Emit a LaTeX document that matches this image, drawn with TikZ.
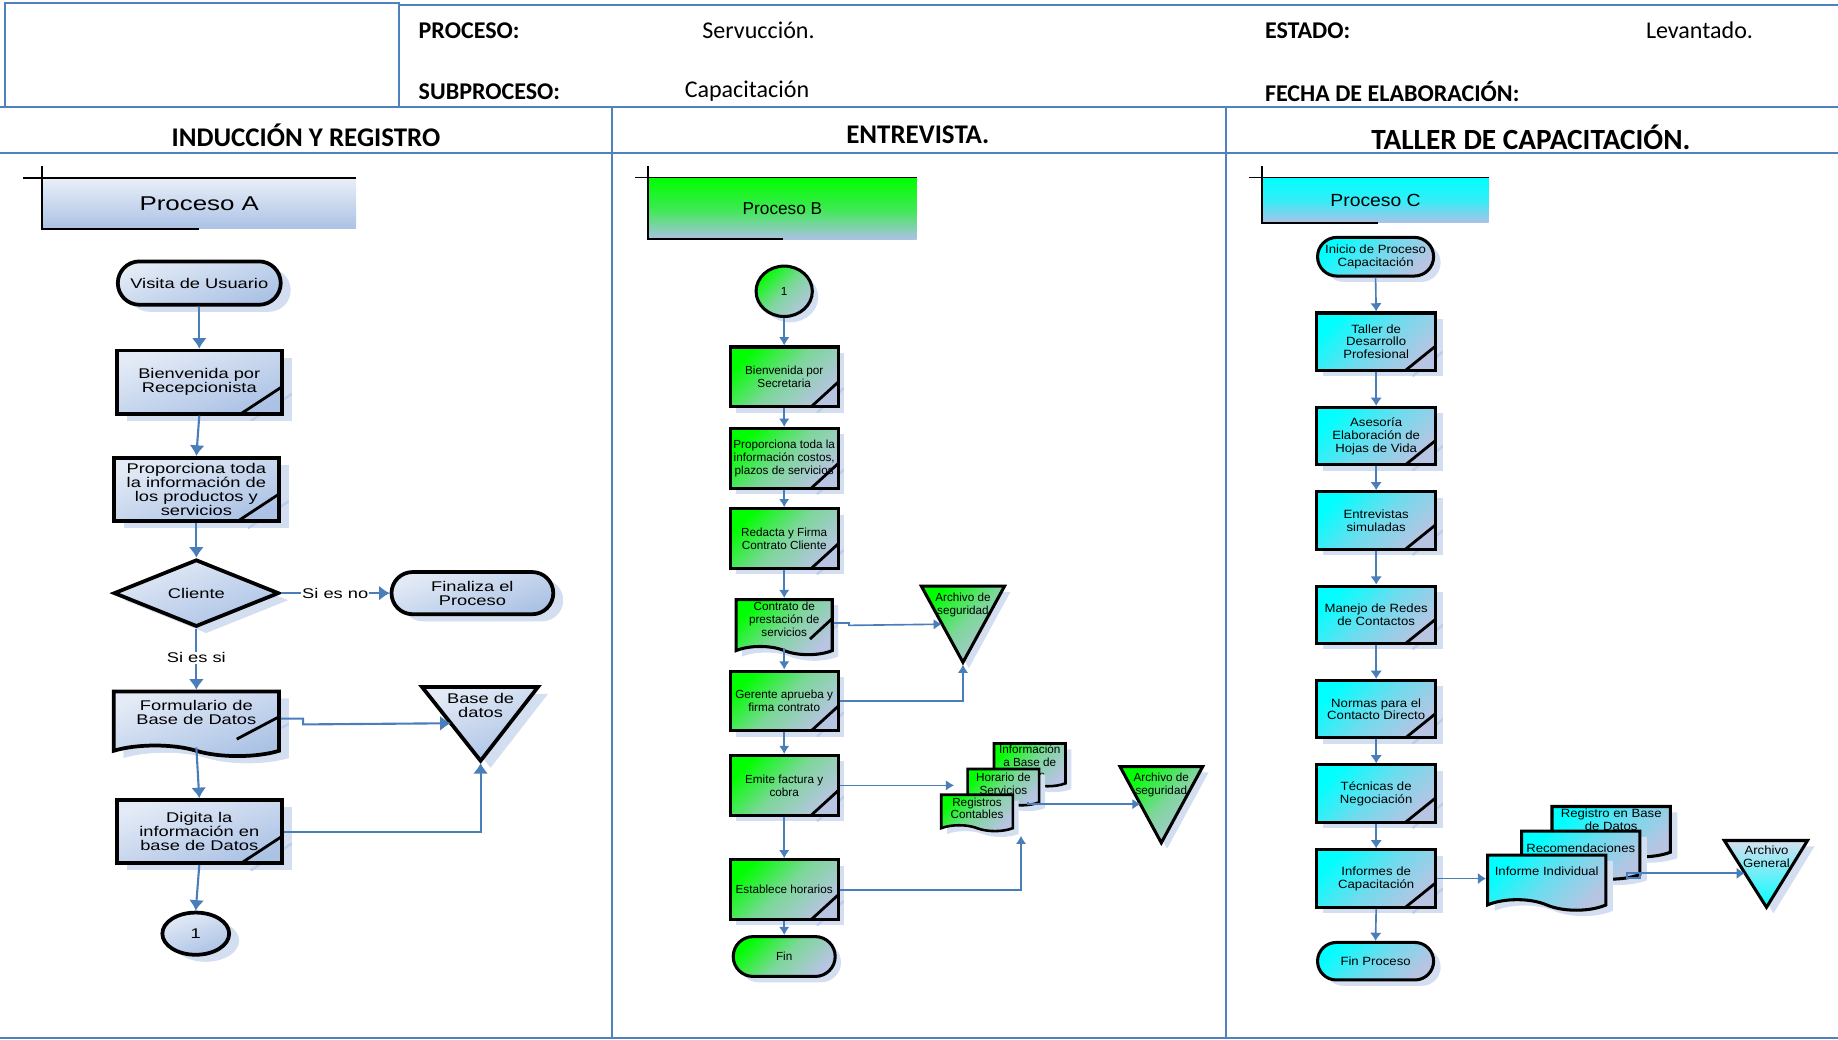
\documentclass[tikz,border=0pt]{standalone}
\usepackage{fontspec}
\setmainfont{Liberation Sans}
\newfontfamily\calibri{Carlito}
\newfontfamily\anchaA[FakeStretch=1.3]{Liberation Sans}
\newfontfamily\anchaC[FakeStretch=1.1]{Liberation Sans}
\usetikzlibrary{arrows.meta,shapes.geometric,shapes.misc,shapes.symbols,shadows}

\definecolor{lineablue}{HTML}{4F81BD}
\definecolor{azulflecha}{HTML}{4A7EBB}
\definecolor{colsombra}{HTML}{D3DEF0}
\definecolor{pliegue}{HTML}{BCCDEA}
\definecolor{azulclaro}{HTML}{E4EBF6}
\definecolor{azulmedio}{HTML}{ABC2E5}
\definecolor{grisazul}{HTML}{B7C4E2}
\definecolor{verde}{HTML}{00FF00}
\definecolor{cian}{HTML}{00FFFF}

\newcommand{\fuenteA}{\anchaA\fontsize{12}{12}\selectfont}
\newcommand{\fuenteB}{\fontsize{10}{11}\selectfont}
\newcommand{\fuenteC}{\anchaC\fontsize{10.2}{11}\selectfont}

\tikzset{
  marco/.style={draw=lineablue, line width=1.8pt},
  con sombra/.style 2 args={drop shadow={shadow xshift=#1, shadow yshift=-#2, opacity=1, fill=colsombra}},
  doblez/.style n args={5}{
    preaction={fill=colsombra, transform canvas={shift={(#4,-#5)}},
      path picture={\draw[line width=2pt, draw=pliegue] ([xshift=-#1,yshift=#3]path picture bounding box.south east) -- ([yshift=#2]path picture bounding box.south east);}},
    path picture={\draw[line width=2.4pt] ([xshift=-#1,yshift=#3]path picture bounding box.south east) -- ([yshift=#2]path picture bounding box.south east);}},
  tonoA/.style={top color=azulclaro, bottom color=azulmedio, shading angle=20},
  tonoB/.style={top color=verde, bottom color=grisazul, middle color=verde!32!grisazul, shading angle=45},
  tonoC/.style={top color=cian, bottom color=grisazul, middle color=cian!40!grisazul, shading angle=45},
  baseA/.style={draw, line width=3.2pt, tonoA, con sombra={8.5pt}{6pt}, inner sep=1pt, align=center, font=\fuenteA},
  baseB/.style={draw, line width=2.6pt, tonoB, con sombra={5pt}{5pt}, inner sep=1pt, align=center, font=\fuenteB},
  baseC/.style={draw, line width=2.6pt, tonoC, con sombra={6pt}{5pt}, inner sep=1pt, align=center, font=\fuenteC},
  cajaA/.style={rectangle, baseA, minimum width=141pt, minimum height=54pt, doblez={35pt}{23pt}{0pt}{8.5pt}{6pt}},
  cajaB/.style={rectangle, baseB, minimum width=92pt, minimum height=51pt, doblez={23pt}{21pt}{0pt}{5pt}{5pt}},
  cajaC/.style={rectangle, baseC, minimum width=102pt, minimum height=49pt, doblez={26pt}{21pt}{0pt}{6pt}{5pt}},
  terminal/.style={rounded rectangle, inner sep=1pt},
  hoja/.style={tape, tape bend top=none, tape bend bottom=out and in},
  flechaA/.style={draw=azulflecha, line width=1.8pt, -{Latex[length=9pt,width=13pt]}},
  flechaB/.style={draw=azulflecha, line width=1.4pt, -{Latex[length=7pt,width=9pt]}},
  flechaC/.style={draw=azulflecha, line width=1.4pt, -{Latex[length=7pt,width=10pt]}},
  banda/.style={rectangle, inner sep=0pt},
  rotulo/.style={anchor=west, inner sep=0pt, font=\calibri\fontsize{20.5}{24}\selectfont},
  negrita/.style={font=\calibri\bfseries\fontsize{20.5}{24}\selectfont},
  columna/.style={inner sep=0pt, font=\calibri\bfseries\fontsize{23}{26}\selectfont}
}

\begin{document}
\begin{tikzpicture}[x=1pt,y=-1pt]
\useasboundingbox (0,0) rectangle (1568,887);

\draw[marco] (4,2.5) rectangle (340.5,91.6);
\draw[marco] (340.5,4) -- (1568,4);
\draw[marco] (0,91.6) -- (1568,91.6);
\draw[marco] (0,130.5) -- (1568,130.5);
\draw[marco] (522,91.6) -- (522,885.5);
\draw[marco] (1046,91.6) -- (1046,885.5);
\draw[marco] (0,885.5) -- (1568,885.5);

\begin{scope}
\clip (0,0) rectangle (1568,90.5);
\node[rotulo, negrita] (proceso) at (357,26) {PROCESO:};
\node[rotulo] (servuccion) at (599,26) {Servucción.};
\node[rotulo, negrita] (estado) at (1079,26) {ESTADO:};
\node[rotulo] (levantado) at (1404,26) {Levantado.};
\node[rotulo, negrita] (subproceso) at (357,78) {SUBPROCESO:};
\node[rotulo] (capacitacion) at (584,78) {Capacitación};
\node[rotulo, negrita] (fecha) at (1079,78) {FECHA DE ELABORACIÓN:};
\end{scope}

\node[columna] (colA) at (261,115) {INDUCCIÓN Y REGISTRO};
\node[columna] (colB) at (783,115) {ENTREVISTA.};
\node[columna, font=\calibri\bfseries\fontsize{25}{27}\selectfont] (colC) at (1306,117) {TALLER DE CAPACITACIÓN.};

% Proceso A
\node[banda, top color=azulclaro!80!white, bottom color=azulmedio, minimum width=267.5pt, minimum height=43.5pt, font=\anchaA\fontsize{17}{17}\selectfont] (banA) at (170,173.5) {Proceso A};
\draw[line width=1.5pt] ([xshift=-16.5pt]banA.north west) -- (banA.north east);
\draw[line width=1.5pt] ([yshift=10pt]banA.north west) -- (banA.south west) -- ++(134,0);

\node[terminal, baseA, minimum width=141pt, minimum height=37pt] (visita) at (170,241.5) {Visita de Usuario};
\node[cajaA] (bienA) at (170,326) {Bienvenida por\\Recepcionista};
\node[cajaA] (propA) at (167.5,417.5) {Proporciona toda\\la información de\\los productos y\\servicios};
\node[diamond, baseA, inner sep=0pt, minimum width=141pt, minimum height=52pt] (cliente) at (167.5,506) {Cliente};
\node[terminal, baseA, minimum width=140pt, minimum height=36pt] (finaliza) at (403,506) {Finaliza el\\Proceso};
\node[hoja, baseA, tape bend height=9pt, minimum width=141pt, minimum height=55pt, text depth=11pt, doblez={36pt}{35pt}{16pt}{8.5pt}{6pt}] (formA) at (167.5,613) {Formulario de\\Base de Datos};
\node[cajaA] (digA) at (170,709.5) {Digita la\\información en\\base de Datos};
\node[ellipse, baseA, inner sep=0pt, minimum width=57pt, minimum height=36pt] (unoA) at (167,796.5) {1};

\path[draw, line width=3.2pt, tonoA, con sombra={8.5pt}{6pt}] (360,586) -- (459,586) -- (410,649) -- cycle;
\node[align=center, font=\fuenteA] (bdatos) at (410,601.5) {Base de\\datos};
\coordinate (bdIzq) at (384.5,617);
\coordinate (bdPunta) at (410,651);

\draw[flechaA] (visita.south) -- (bienA.north);
\draw[flechaA] (bienA.south) -- (propA.north);
\draw[flechaA] (propA.south) -- (cliente.north);
\draw[flechaA] (cliente.east) -- node[fill=white, inner sep=1pt, font=\fuenteA] {Si es no} (finaliza.west);
\draw[flechaA] (cliente.south) -- node[fill=white, inner sep=1pt, font=\fuenteA, pos=0.48] {Si es si} (formA.north);
\draw[flechaA] (formA.east) -- ++(19,0) -- ++(0,5) -- (bdIzq);
\draw[flechaA] (formA.south) -- (digA.north);
\draw[flechaA] (digA.east) -| (bdPunta);
\draw[flechaA] (digA.south) -- (unoA.north);

% Proceso B
\node[banda, top color=verde, bottom color=azulmedio, middle color=verde!65!azulmedio, minimum width=229pt, minimum height=52.4pt, font=\fontsize{14.7}{15}\selectfont] (banB) at (667.5,177.8) {Proceso B};
\draw[line width=1.5pt] ([xshift=-11pt]banB.north west) -- (banB.north east);
\draw[line width=1.5pt] ([yshift=9.6pt]banB.north west) -- (banB.south west) -- ++(115,0);

\node[ellipse, baseB, inner sep=0pt, minimum width=48pt, minimum height=43pt] (unoB) at (669,248.5) {1};
\node[cajaB] (bienB) at (669,321.5) {Bienvenida por\\Secretaria};
\node[cajaB] (propB) at (669,391) {Proporciona toda la\\información costos,\\plazos de servicios};
\node[cajaB] (redB) at (669,459.5) {Redacta y Firma\\Contrato Cliente};
\node[hoja, baseB, tape bend height=7pt, minimum width=82pt, minimum height=47pt, text depth=7pt, doblez={19pt}{32pt}{14.5pt}{5pt}{5pt}] (contB) at (669,531.5) {Contrato de\\prestación de\\servicios};
\node[cajaB] (gerB) at (669,598) {Gerente aprueba y\\firma contrato};
\node[cajaB] (emiB) at (669,670) {Emite factura y\\cobra};
\node[cajaB] (estB) at (669,759) {Establece horarios};
\node[terminal, baseB, minimum width=89pt, minimum height=34pt] (finB) at (669,816) {Fin};

\path[draw, line width=2.6pt, tonoB, con sombra={5pt}{5pt}] (786,500) -- (857,500) -- (821.5,565) -- cycle;
\node[align=center, font=\fuenteB] (archB) at (821.5,516) {Archivo de\\seguridad};
\coordinate (archBIzq) at (803.5,532.5);
\coordinate (archBPunta) at (821.5,567);

\node[hoja, baseB, line width=2.2pt, tape bend height=5pt, minimum width=61pt, minimum height=32pt] (infoB) at (878.5,650) {Información\\a Base de\\Datos};
\node[hoja, baseB, line width=2.2pt, tape bend height=5pt, minimum width=61pt, minimum height=31pt] (horB) at (856,669) {Horario de\\Servicios};
\node[hoja, baseB, line width=2.2pt, tape bend height=5pt, minimum width=61pt, minimum height=31pt, text depth=3pt] (regB) at (833.5,691) {Registros\\Contables};
\coordinate (pilaB) at (814,670);
\coordinate (salidaB) at (877,684);
\coordinate (bajoPilaB) at (871,713);

\path[draw, line width=2.6pt, tonoB, con sombra={5pt}{5pt}] (955.5,654) -- (1026,654) -- (990.7,719) -- cycle;
\node[align=center, font=\fuenteB] (archB2) at (990.7,669.5) {Archivo de\\seguridad};
\coordinate (archB2Izq) at (973,686);

\draw[flechaB] (unoB.south) -- (bienB.north);
\draw[flechaB] (bienB.south) -- (propB.north);
\draw[flechaB] (propB.south) -- (redB.north);
\draw[flechaB] (redB.south) -- (contB.north);
\draw[flechaB] (contB.east) -- ++(13,0) -- ++(0,2) -- (archBIzq);
\draw[flechaB] (contB.south) -- (gerB.north);
\draw[flechaB] (gerB.east) -| (archBPunta);
\draw[flechaB] (gerB.south) -- (emiB.north);
\draw[flechaB] (emiB.east) -- (pilaB);
\draw[flechaB] (salidaB) -- ++(0,2) -- (archB2Izq);
\draw[flechaB] (emiB.south) -- (estB.north);
\draw[flechaB] (estB.east) -| (bajoPilaB);
\draw[flechaB] (estB.south) -- (finB.north);

% Proceso C
\node[banda, top color=cian, bottom color=azulmedio, middle color=cian!70!azulmedio, minimum width=193pt, minimum height=38.4pt, font=\anchaC\fontsize{15}{15}\selectfont] (banC) at (1173.5,170.8) {Proceso C};
\draw[line width=1.5pt] ([xshift=-11pt]banC.north west) -- (banC.north east);
\draw[line width=1.5pt] ([yshift=9.6pt]banC.north west) -- (banC.south west) -- ++(99,0);

\node[terminal, baseC, minimum width=101pt, minimum height=33pt] (inicio) at (1173.5,219) {Inicio de Proceso\\Capacitación};
\node[cajaC] (taller) at (1174,291.5) {Taller de\\Desarrollo\\Profesional};
\node[cajaC] (asesoria) at (1174,372) {Asesoría\\Elaboración de\\Hojas de Vida};
\node[cajaC] (entrev) at (1174,444) {Entrevistas\\simuladas};
\node[cajaC] (manejo) at (1174,524.5) {Manejo de Redes\\de Contactos};
\node[cajaC] (normas) at (1174,605) {Normas para el\\Contacto Directo};
\node[cajaC] (tecnicas) at (1174,677) {Técnicas de\\Negociación};
\node[cajaC] (informes) at (1174,749.5) {Informes de\\Capacitación};
\node[terminal, baseC, minimum width=101pt, minimum height=32pt] (finC) at (1173.5,820) {Fin Proceso};

\node[hoja, baseC, tape bend height=8pt, minimum width=101pt, minimum height=43pt, text depth=12pt] (regC) at (1374.5,705.5) {Registro en Base\\de Datos};
\node[hoja, baseC, tape bend height=8pt, minimum width=101pt, minimum height=41pt, text depth=4pt] (recC) at (1348.5,725.5) {Recomendaciones};
\node[hoja, baseC, tape bend height=9pt, minimum width=101pt, minimum height=47pt, text depth=10pt] (indC) at (1319.5,748.5) {Informe Individual};
\coordinate (salidaC) at (1388,745);

\path[draw, line width=2.6pt, top color=grisazul!55!white, bottom color=cian, con sombra={6pt}{5pt}] (1471,717) -- (1542,717) -- (1507,774) -- cycle;
\node[align=center, font=\fuenteC] (archC) at (1507,731) {Archivo\\General};
\coordinate (archCIzq) at (1488.5,745);

\draw[flechaC] (inicio.south) -- (taller.north);
\draw[flechaC] (taller.south) -- (asesoria.north);
\draw[flechaC] (asesoria.south) -- (entrev.north);
\draw[flechaC] (entrev.south) -- (manejo.north);
\draw[flechaC] (manejo.south) -- (normas.north);
\draw[flechaC] (normas.south) -- (tecnicas.north);
\draw[flechaC] (tecnicas.south) -- (informes.north);
\draw[flechaC] (informes.south) -- (finC.north);
\draw[flechaC] (informes.east) -- (informes.east -| indC.west);
\draw[draw=azulflecha, line width=1.4pt] (salidaC) rectangle ++(11,4);
\draw[flechaC] (salidaC) -- (archCIzq);
\end{tikzpicture}
\end{document}
